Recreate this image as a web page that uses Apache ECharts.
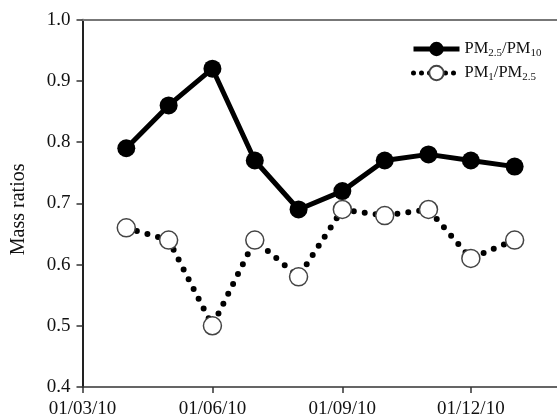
<!DOCTYPE html>
<html>
<head>
<meta charset="utf-8">
<script src="https://cdn.jsdelivr.net/npm/echarts@6/dist/echarts.min.js"></script>
<style>
  html, body { margin: 0; padding: 0; background: #ffffff; }
  #chart { width: 557px; height: 419px; }
</style>
</head>
<body>
<div id="chart"></div>
<script>
// ---- data ----
var dates = ['2010-04-01', '2010-05-01', '2010-06-01', '2010-07-01', '2010-08-01',
             '2010-09-01', '2010-10-01', '2010-11-01', '2010-12-01', '2011-01-01'];
var pm25_pm10 = [0.79, 0.86, 0.92, 0.77, 0.69, 0.72, 0.77, 0.78, 0.77, 0.76];
var pm1_pm25  = [0.66, 0.64, 0.50, 0.64, 0.58, 0.69, 0.68, 0.69, 0.61, 0.64];
var tickDates  = ['2010-03-01', '2010-06-01', '2010-09-01', '2010-12-01'];
var tickLabels = ['01/03/10', '01/06/10', '01/09/10', '01/12/10'];
var axisStart = '2010-03-01';
var axisEnd   = '2011-01-31';

// days elapsed since the axis start date (x scale in days)
function dayOf(s) {
  var p = s.split('-');
  var t = Date.UTC(+p[0], +p[1] - 1, +p[2]);
  var a = axisStart.split('-');
  var t0 = Date.UTC(+a[0], +a[1] - 1, +a[2]);
  return Math.round((t - t0) / 86400000);
}
var tickDays = tickDates.map(dayOf);

var FONT = "'Liberation Serif', 'Times New Roman', serif";

var chart = echarts.init(document.getElementById('chart'), null, { renderer: 'canvas' });

var option = {
  backgroundColor: '#ffffff',
  animation: false,
  textStyle: { fontFamily: FONT },
  grid: { left: 82.5, right: 0, top: 19.7, bottom: 31.7, containLabel: false },
  legend: {
    orient: 'vertical',
    left: 406,
    top: 34,
    itemWidth: 46,
    itemHeight: 18,
    itemGap: 4,
    textStyle: {
      fontFamily: FONT,
      color: '#111',
      rich: {
        n: { fontFamily: FONT, fontSize: 16.5, color: '#111', lineHeight: 20 },
        s: { fontFamily: FONT, fontSize: 11, color: '#111', lineHeight: 12, padding: [9, 0, 0, 0] }
      }
    },
    formatter: function (name) {
      if (name === 'PM2.5/PM10') return '{n|PM}{s|2.5}{n|/PM}{s|10}';
      return '{n|PM}{s|1}{n|/PM}{s|2.5}';
    },
    data: [
      { name: 'PM2.5/PM10', lineStyle: { width: 5, color: '#000' } },
      { name: 'PM1/PM2.5', lineStyle: { width: 5, color: '#000', type: [0, 8], cap: 'round' } }
    ]
  },
  xAxis: [{
    type: 'value',
    min: 0,
    max: dayOf(axisEnd),
    axisLine: { show: true, lineStyle: { color: '#333', width: 1.5 } },
    axisTick: { show: true, inside: false, length: 6, customValues: tickDays, lineStyle: { color: '#333', width: 1.5 } },
    axisLabel: {
      show: true,
      customValues: tickDays,
      margin: 13,
      fontFamily: FONT,
      fontSize: 19,
      color: '#111',
      formatter: function (v) {
        var i = tickDays.indexOf(v);
        return i >= 0 ? tickLabels[i] : '';
      }
    },
    splitLine: { show: false }
  }, {
    type: 'value',
    position: 'top',
    min: 0, max: 1,
    axisLine: { show: true, lineStyle: { color: '#777', width: 2 } },
    axisTick: { show: false },
    axisLabel: { show: false },
    splitLine: { show: false }
  }],
  yAxis: {
    type: 'value',
    min: 0.4,
    max: 1.0,
    interval: 0.1,
    name: 'Mass ratios',
    nameLocation: 'middle',
    nameRotate: 90,
    nameGap: 54,
    nameTextStyle: { fontFamily: FONT, fontSize: 20, color: '#111', padding: [0, 12, 0, 0] },
    axisLine: { show: true, lineStyle: { color: '#222', width: 2 } },
    axisTick: { show: true, inside: false, length: 6, lineStyle: { color: '#333', width: 1.5 } },
    axisLabel: {
      margin: 12,
      fontFamily: FONT,
      fontSize: 19,
      color: '#111',
      formatter: function (v) { return v.toFixed(1); }
    },
    splitLine: { show: false }
  },
  series: [{
    name: 'PM2.5/PM10',
    type: 'line',
    xAxisIndex: 0,
    data: dates.map(function (d, i) { return [dayOf(d), pm25_pm10[i]]; }),
    symbol: 'circle',
    symbolSize: 18,
    itemStyle: { color: '#000', borderColor: '#000', borderWidth: 0 },
    lineStyle: { color: '#000', width: 5 },
    z: 2
  }, {
    name: 'PM1/PM2.5',
    type: 'line',
    xAxisIndex: 0,
    data: dates.map(function (d, i) { return [dayOf(d), pm1_pm25[i]]; }),
    symbol: 'circle',
    symbolSize: 18,
    showAllSymbol: true,
    itemStyle: { color: '#fff', borderColor: '#444', borderWidth: 1.5 },
    lineStyle: { color: '#000', width: 6, type: [0, 11], cap: 'round' },
    z: 3
  }]
};
chart.setOption(option);
</script>
</body>
</html>
